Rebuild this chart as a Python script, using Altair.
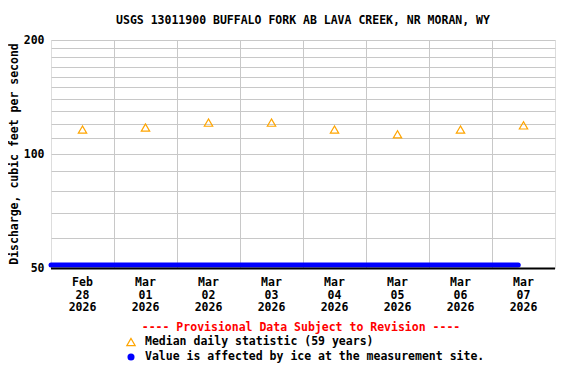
import altair as alt
import pandas as pd

# ---- data ----
title_text = "USGS 13011900 BUFFALO FORK AB LAVA CREEK, NR MORAN, WY"
y_title = "Discharge, cubic feet per second"

median_dates = ["2026-02-28T12:00", "2026-03-01T12:00", "2026-03-02T12:00", "2026-03-03T12:00",
                "2026-03-04T12:00", "2026-03-05T12:00", "2026-03-06T12:00", "2026-03-07T12:00"]
median_values = [116, 117.5, 121, 121, 116, 112.7, 116, 119]

# ice-affected record, shown along the bottom of the graph
ice_dates = ["2026-02-28T00:00", "2026-03-01T00:00", "2026-03-02T00:00", "2026-03-03T00:00",
             "2026-03-04T00:00", "2026-03-05T00:00", "2026-03-06T00:00", "2026-03-07T00:00",
             "2026-03-07T10:00"]
ice_values = [50, 50, 50, 50, 50, 50, 50, 50, 50]

label_dates = median_dates
label_months = ["Feb", "Mar", "Mar", "Mar", "Mar", "Mar", "Mar", "Mar"]
label_days = ["28", "01", "02", "03", "04", "05", "06", "07"]
label_years = ["2026"] * 8

grid_y = [50, 60, 70, 80, 90, 100, 110, 120, 130, 140, 150, 160, 170, 180, 190, 200]
y_labels = [50, 100, 200]

FONT = "DejaVu Sans Mono"
FS = 11.5

x_scale = alt.Scale(domain=[alt.DateTime(year=2026, month=2, date=28),
                            alt.DateTime(year=2026, month=3, date=8)])
y_scale = alt.Scale(type="log", domain=[50, 200], nice=False)

x_axis = alt.Axis(values=[alt.DateTime(year=2026, month=3, date=d) for d in range(1, 8)],
                  labels=False, ticks=False, domain=False, title=None,
                  grid=True, gridColor="#c8c8c8", gridWidth=1)
y_axis = alt.Axis(values=grid_y, ticks=False, domain=False, title=None,
                  grid=True, gridColor="#c8c8c8", gridWidth=1,
                  labelExpr="indexof([50,100,200], datum.value) >= 0 ? datum.label : ''",
                  labelFont=FONT, labelFontSize=FS, labelFontWeight="bold",
                  labelColor="black", labelPadding=7)

med_df = pd.DataFrame({"date": median_dates, "value": median_values})
ice_df = pd.DataFrame({"date": ice_dates, "value": ice_values})
lab_df = pd.DataFrame({"date": label_dates,
                       "text": [f"{m}\n{d}\n{y}" for m, d, y in zip(label_months, label_days, label_years)]})

ice = alt.Chart(ice_df).mark_line(color="#0000ff", strokeWidth=5, strokeCap="round",
                                  yOffset=-3, clip=False).encode(
    x=alt.X("date:T", scale=x_scale, axis=x_axis),
    y=alt.Y("value:Q", scale=y_scale, axis=y_axis),
)

bottom = alt.Chart(ice_df.iloc[:1]).mark_rule(color="black", strokeWidth=2).encode(
    x=alt.value(0), x2=alt.value(504), y=alt.value(228.5))

med = alt.Chart(med_df).mark_point(shape="triangle-up", filled=False, color="#ffa500",
                                   size=70, strokeWidth=1.2, opacity=1).encode(
    x=alt.X("date:T", scale=x_scale),
    y=alt.Y("value:Q", scale=y_scale),
)

xlabels = alt.Chart(lab_df).mark_text(font=FONT, fontSize=FS, fontWeight="bold", color="black",
                                      baseline="top", align="center", lineBreak="\n",
                                      lineHeight=12.7).encode(
    x=alt.X("date:T", scale=x_scale),
    y=alt.value(237),
    text="text:N",
)

one = pd.DataFrame({"a": [0]})

def txt(s, x, y, color="black", align="center", angle=0):
    kw = dict(font=FONT, fontSize=FS, fontWeight="bold", color=color, align=align,
              baseline="middle")
    if angle:
        kw["angle"] = angle
    return alt.Chart(one).mark_text(**kw).encode(
        x=alt.value(x), y=alt.value(y), text=alt.value(s))

title = txt(title_text, 252, -19)
ytitle = txt(y_title, -36, 114, angle=270)
prov = txt("---- Provisional Data Subject to Revision ----", 250, 288, color="#ff0000")
leg1 = txt("Median daily statistic (59 years)", 94, 302, align="left")
leg2 = txt("Value is affected by ice at the measurement site.", 94, 317, align="left")
leg1s = alt.Chart(one).mark_point(shape="triangle-up", filled=False, color="#ffa500",
                                  size=70, strokeWidth=1.2, opacity=1).encode(
    x=alt.value(80), y=alt.value(302))
leg2s = alt.Chart(one).mark_point(shape="circle", filled=True, color="#0000ff",
                                  size=50, opacity=1).encode(
    x=alt.value(80), y=alt.value(317))

chart = alt.layer(ice, bottom, med, xlabels, title, ytitle, prov, leg1, leg1s, leg2, leg2s).properties(
    width=504, height=228,
    autosize=alt.AutoSizeParams(type="none"),
    padding={"left": 43, "top": 32, "right": 13, "bottom": 100},
).configure_view(stroke="black", strokeWidth=1).configure(background="white")

chart.save("out.html", embed_options={"renderer": "svg", "actions": False})
